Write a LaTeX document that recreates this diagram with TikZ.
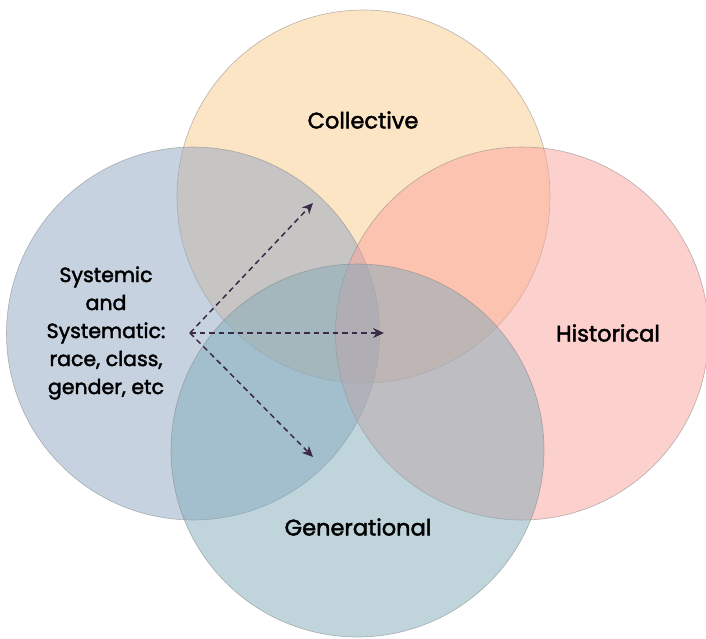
\documentclass[tikz,border=0pt]{standalone}
\usepackage{fontspec}
\setmainfont{Poppins}
\newfontfamily\labelfont{Poppins}[FakeBold=2]
\usetikzlibrary{arrows.meta}
\definecolor{colC}{HTML}{FBCD8B}
\definecolor{colS}{HTML}{91A7C3}
\definecolor{colH}{HTML}{FBA39D}
\definecolor{colG}{HTML}{81ABB9}
\definecolor{arrowcol}{HTML}{3B2A47}
\tikzset{
  setcircle/.style={circle, minimum size=373pt, inner sep=0pt,
    fill opacity=0.5, draw=black!50, draw opacity=0.55, line width=0.6pt},
  setlabel/.style={font=\labelfont\fontsize{22.5}{28}\selectfont, text=black, align=center, inner sep=0pt},
  sidelabel/.style={setlabel, font=\labelfont\fontsize{20.5}{28}\selectfont},
  flow/.style={arrowcol, line width=1.5pt, dash pattern=on 5.5pt off 4pt,
    -{Stealth[length=11pt, width=10pt]}}
}
\begin{document}
\begin{tikzpicture}[x=1pt, y=-1pt]
  \useasboundingbox (0,0) rectangle (706,638);
  \fill[white] (0,0) rectangle (706,638);
  % four overlapping sets
  \node[setcircle, fill=colC] (collective)   at (363.5,196.5) {};
  \node[setcircle, fill=colS] (systemic)     at (193,333.5) {};
  \node[setcircle, fill=colH] (historical)   at (522,333.5) {};
  \node[setcircle, fill=colG] (generational) at (357.5,450.5) {};
  % labels
  \node[setlabel] (lblC) at (363,120) {Collective};
  \node[setlabel] (lblH) at (608,333) {Historical};
  \node[setlabel] (lblG) at (358,527) {Generational};
  \node[sidelabel] (lblS) at (106,333) {Systemic\\and\\Systematic:\\race, class,\\gender, etc};
  % arrows fanning out from the systemic label
  \coordinate (src) at (190,333);
  \coordinate (toC) at (313,203);
  \coordinate (toH) at (384,333);
  \coordinate (toG) at (313,457);
  \draw[flow] (src) -- (toC);
  \draw[flow] (src) -- (toH);
  \draw[flow] (src) -- (toG);
\end{tikzpicture}
\end{document}
